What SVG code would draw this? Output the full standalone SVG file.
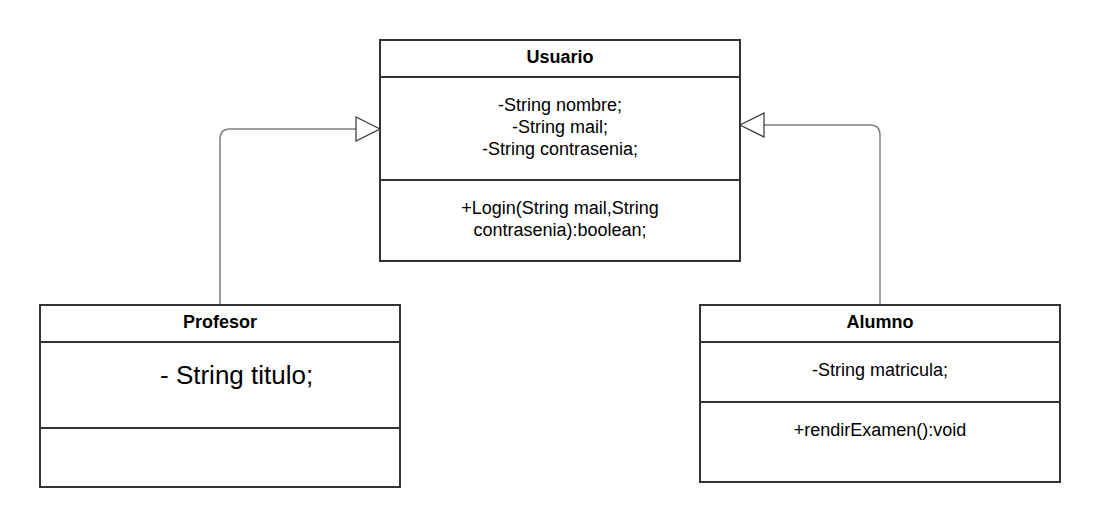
<svg xmlns="http://www.w3.org/2000/svg" width="1100" height="527" viewBox="0 0 1100 527">
<defs>
<style>
.box{fill:#fff;stroke:#333;stroke-width:2}
.div{stroke:#333;stroke-width:2}
.t{font-family:"Liberation Sans",Arial,sans-serif;font-size:18px;fill:#000;text-anchor:middle}
.b{font-weight:bold}
.con{fill:none;stroke:#808080;stroke-width:1.5}
.tri{fill:#fff;stroke:#333;stroke-width:1.2}
</style>
</defs>
<rect width="1100" height="527" fill="#fff"/>
<g id="connectors">
<path class="con" d="M220 305 V139 Q220 129 230 129 H356"/>
<polygon class="tri" points="356,117 380,129 356,141"/>
<path class="con" d="M880 305 V135 Q880 125 870 125 H764"/>
<polygon class="tri" points="764,113 740,125 764,137"/>
</g>
<g id="usuario">
<rect class="box" x="380" y="40" width="360" height="221"/>
<line class="div" x1="380" y1="77" x2="740" y2="77"/>
<line class="div" x1="380" y1="180" x2="740" y2="180"/>
<text class="t b" x="560" y="63">Usuario</text>
<text class="t" x="560" y="111">-String nombre;</text>
<text class="t" x="560" y="133">-String mail;</text>
<text class="t" x="560" y="155">-String contrasenia;</text>
<text class="t" x="560" y="214">+Login(String mail,String</text>
<text class="t" x="560" y="236">contrasenia):boolean;</text>
</g>
<g id="profesor">
<rect class="box" x="40" y="305" width="360" height="182"/>
<line class="div" x1="40" y1="342" x2="400" y2="342"/>
<line class="div" x1="40" y1="428" x2="400" y2="428"/>
<text class="t b" x="220" y="328">Profesor</text>
<text class="t" x="160" y="384" style="text-anchor:start;font-size:26px">- String titulo;</text>
</g>
<g id="alumno">
<rect class="box" x="700" y="305" width="360" height="177"/>
<line class="div" x1="700" y1="342" x2="1060" y2="342"/>
<line class="div" x1="700" y1="402" x2="1060" y2="402"/>
<text class="t b" x="880" y="328">Alumno</text>
<text class="t" x="880" y="376">-String matricula;</text>
<text class="t" x="880" y="436">+rendirExamen():void</text>
</g>
</svg>
